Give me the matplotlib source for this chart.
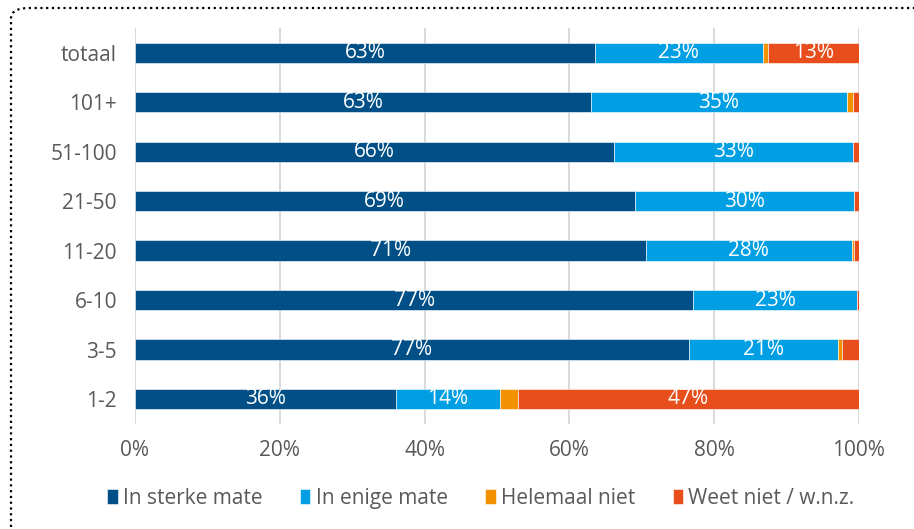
import matplotlib.pyplot as plt
from matplotlib.patches import FancyBboxPatch

# categories top to bottom
cats = ['totaal', '101+', '51-100', '21-50', '11-20', '6-10', '3-5', '1-2']
sterk = [63.5, 63.0, 66.1, 69.0, 70.6, 77.1, 76.5, 36.0]
enig = [23.2, 35.3, 33.1, 30.35, 28.4, 22.6, 20.6, 14.4]
helemaal = [0.8, 0.9, 0.0, 0.0, 0.35, 0.0, 0.5, 2.5]
weetniet = [12.5, 0.8, 0.8, 0.65, 0.65, 0.3, 2.4, 47.1]

labels_sterk = ['63%', '63%', '66%', '69%', '71%', '77%', '77%', '36%']
labels_enig = ['23%', '35%', '33%', '30%', '28%', '23%', '21%', '14%']
labels_weet = ['13%', '', '', '', '', '', '', '47%']

series = ['In sterke mate', 'In enige mate', 'Helemaal niet', 'Weet niet / w.n.z.']
colors = ['#004F86', '#009FE3', '#F39200', '#E84E1B']

plt.rcParams['font.family'] = ['Open Sans', 'DejaVu Sans']

fig = plt.figure(figsize=(9.14, 5.29), dpi=100)
ax = fig.add_axes([0.1477, 0.199, 0.7921, 0.748])

ys = list(range(len(cats)))
left = [0.0] * len(cats)
data = [sterk, enig, helemaal, weetniet]
bar_sets = []
for vals, col, name in zip(data, colors, series):
    b = ax.barh(ys, vals, left=left, height=0.41, color=col, label=name,
                edgecolor='white', linewidth=0.4, zorder=3)
    bar_sets.append(b)
    left = [l + v for l, v in zip(left, vals)]

for b, labs in zip([bar_sets[0], bar_sets[1], bar_sets[3]],
                   [labels_sterk, labels_enig, labels_weet]):
    ax.bar_label(b, labels=labs, label_type='center', color='white',
                 fontsize=15, zorder=4)

ax.set_xlim(0, 100)
ax.set_ylim(len(cats) - 0.5, -0.5)
ax.set_yticks(ys)
ax.set_yticklabels(cats)
ax.set_xticks([0, 20, 40, 60, 80, 100])
ax.set_xticklabels(['0%', '20%', '40%', '60%', '80%', '100%'])
ax.tick_params(axis='both', length=0, labelsize=15, labelcolor='#595959')
ax.tick_params(axis='y', pad=13)
ax.tick_params(axis='x', pad=12)
ax.grid(axis='x', color='#D9D9D9', linewidth=1.4, zorder=0)
for s in ax.spines.values():
    s.set_visible(False)

fig.legend(loc='center', bbox_to_anchor=(0.526, 0.058), ncol=4, frameon=False,
           fontsize=15, labelcolor='#595959', handlelength=0.5, handleheight=0.7,
           handletextpad=0.25, columnspacing=1.8)

# dotted rounded frame, partly cut off at the right and bottom
frame = FancyBboxPatch((11 / 914, -0.05), 1.05, 1 - 8 / 529 + 0.05,
                       boxstyle='round,pad=0,rounding_size=0.02',
                       transform=fig.transFigure, fill=False,
                       edgecolor='black', linestyle=(0, (1, 1.6)), linewidth=1.6)
fig.patches.append(frame)

fig.savefig('out.png', dpi=100)
